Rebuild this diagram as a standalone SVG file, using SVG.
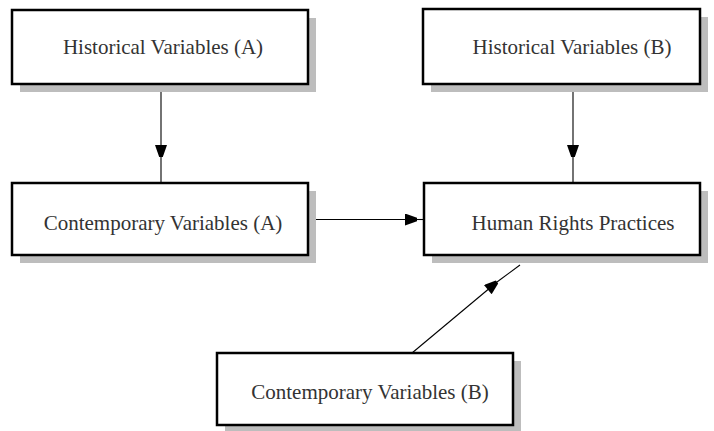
<svg xmlns="http://www.w3.org/2000/svg" width="714" height="431" viewBox="0 0 714 431">
<defs>
<style>
.shadow{fill:#bdbdbd;stroke:none}
.box{fill:#fff;stroke:#000;stroke-width:2.5}
.lbl{font-family:"Liberation Serif",serif;font-size:21px;fill:#333;text-anchor:middle}
.conn{stroke:#000;stroke-width:1.1;fill:none}
</style>
<marker id="ah" viewBox="0 0 10 10" refX="10" refY="5" markerWidth="18" markerHeight="12" markerUnits="userSpaceOnUse" orient="auto">
<path d="M0,0 L10,3.5 L10,6.5 L0,10 z" fill="#000"/>
</marker>
</defs>
<rect width="714" height="431" fill="#fff"/>
<g id="connectors">
<line class="conn" x1="161" y1="84" x2="161" y2="157" marker-end="url(#ah)"/>
<line class="conn" x1="161" y1="157" x2="161" y2="183"/>
<line class="conn" x1="573" y1="84" x2="573" y2="157" marker-end="url(#ah)"/>
<line class="conn" x1="573" y1="157" x2="573" y2="183"/>
<line class="conn" x1="308" y1="219.5" x2="417" y2="219.5" marker-end="url(#ah)"/>
<line class="conn" x1="417" y1="219.5" x2="424" y2="219.5"/>
<line class="conn" x1="412" y1="353" x2="497" y2="282" marker-end="url(#ah)"/>
<line class="conn" x1="497" y1="282" x2="520" y2="265"/>
</g>
<g id="hist-a">
<rect class="shadow" x="20" y="18" width="296" height="74"/>
<rect class="box" x="12" y="10" width="296" height="74"/>
<text class="lbl" x="163" y="54">Historical Variables (A)</text>
</g>
<g id="hist-b">
<rect class="shadow" x="431" y="17" width="277" height="75"/>
<rect class="box" x="423" y="9" width="277" height="75"/>
<text class="lbl" x="572" y="54">Historical Variables (B)</text>
</g>
<g id="cont-a">
<rect class="shadow" x="20" y="191" width="296" height="72"/>
<rect class="box" x="12" y="183" width="296" height="72"/>
<text class="lbl" x="163" y="230">Contemporary Variables (A)</text>
</g>
<g id="hrp">
<rect class="shadow" x="432" y="191" width="276" height="72"/>
<rect class="box" x="424" y="183" width="276" height="72"/>
<text class="lbl" x="573" y="230">Human Rights Practices</text>
</g>
<g id="cont-b">
<rect class="shadow" x="225" y="361" width="296" height="72"/>
<rect class="box" x="217" y="353" width="296" height="72"/>
<text class="lbl" x="370" y="399">Contemporary Variables (B)</text>
</g>
</svg>
